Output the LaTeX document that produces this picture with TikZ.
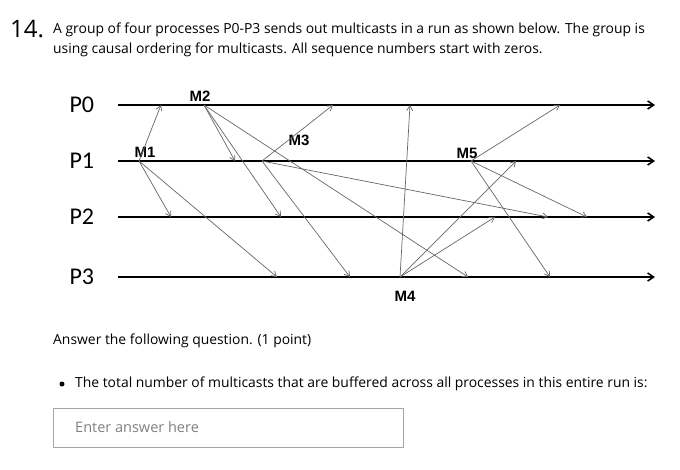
\documentclass[tikz,border=0pt]{standalone}
\usepackage{fontspec}
\setmainfont{Open Sans}
\newfontfamily\calib{Carlito}
\newfontfamily\arialb{Liberation Sans}
\usetikzlibrary{arrows.meta}
\begin{document}
\begin{tikzpicture}[x=1pt,y=-1pt,
  axis/.style={line width=1.8pt,-{Straight Barb[length=6pt,width=8pt,line width=1.5pt]}},
  msg/.style={draw=black!60,line width=0.7pt,-{Straight Barb[length=5pt,width=6pt]}},
  plab/.style={font=\calib\fontsize{24}{26}\selectfont,anchor=west},
  mlab/.style={font=\arialb\bfseries\fontsize{15}{16}\selectfont},
  txt/.style={font=\fontsize{13.9}{16}\selectfont,anchor=west,inner sep=0}]
\useasboundingbox (0,0) rectangle (680,469);
\node[anchor=west,inner sep=0,font=\fontsize{24}{26}\selectfont] (num) at (10,29) {14.};
\node[txt] (t1) at (53,30) {A group of four processes P0-P3 sends out multicasts in a run as shown below. The group is};
\node[txt] (t2) at (53,50) {using causal ordering for multicasts. All sequence numbers start with zeros.};
\foreach \n/\y in {0/105,1/161,2/217,3/277}{
  \node[plab] (p\n) at (66,\y) {P\n};
  \coordinate (s\n) at (118,\y); \coordinate (e\n) at (655,\y);
  \draw[axis] (s\n) -- (e\n);}
\coordinate (m1) at (139,161); \coordinate (m2) at (204,105); \coordinate (m3) at (262,161);
\coordinate (m4) at (400,277); \coordinate (m5) at (471,161);
\node[mlab] (l1) at (145,152) {M1};
\node[mlab] (l2) at (200,96) {M2};
\node[mlab] (l3) at (299,140) {M3};
\node[mlab] (l4) at (405,296) {M4};
\node[mlab] (l5) at (467,153) {M5};
\foreach \a/\x/\y in {m1/161/105, m1/171/217, m1/277/277,
  m2/235/161, m2/281/217, m2/468/277,
  m3/333/105, m3/548/217, m3/350/277,
  m4/410/105, m4/516/161, m4/495/217,
  m5/560/105, m5/587/217, m5/550/277}{
  \coordinate (d) at (\x,\y);
  \draw[msg] (\a) -- (d);}
\node[txt] (q) at (53,341) {Answer the following question. (1 point)};
\fill (62,384) circle (2.5pt);
\node[txt] (b) at (75,384) {The total number of multicasts that are buffered across all processes in this entire run is:};
\node[draw=black!35,line width=0.7pt,minimum width=350pt,minimum height=39pt,anchor=north west] (box) at (53,408) {};
\node[txt,text=black!50,font=\fontsize{14.5}{16}\selectfont] (ph) at (75,427.5) {Enter answer here};
\end{tikzpicture}
\end{document}
